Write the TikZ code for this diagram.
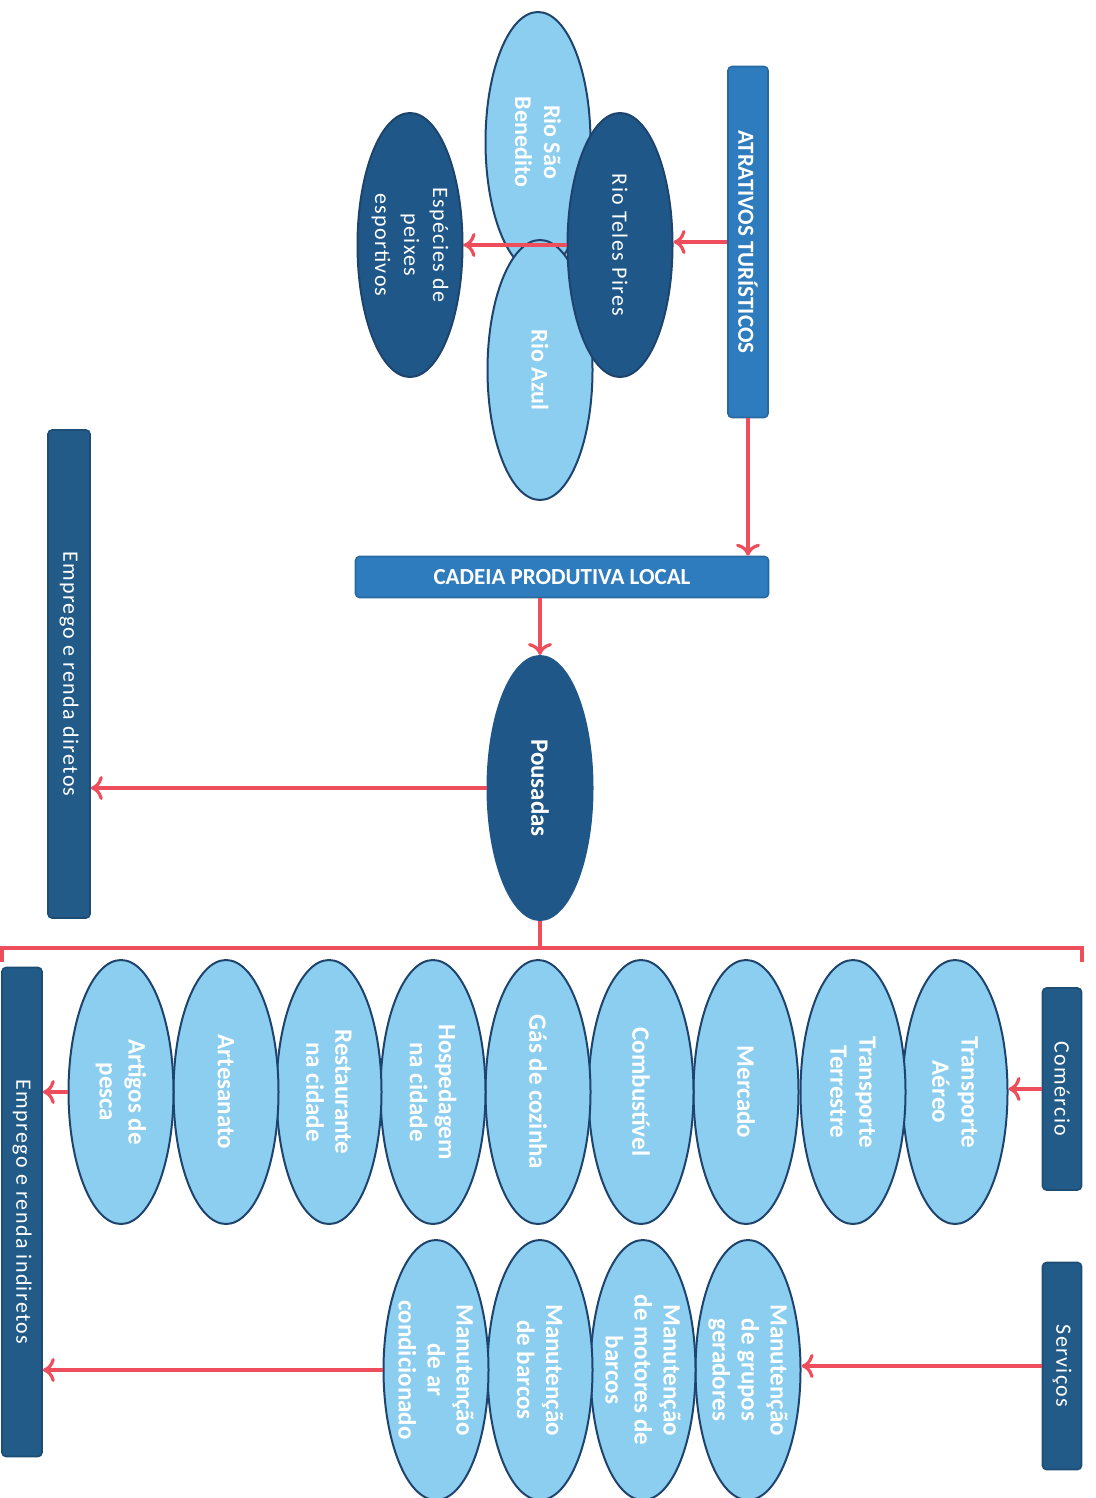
\documentclass[tikz,border=0pt]{standalone}
\usepackage{fontspec}
\setmainfont{Carlito}
\newfontfamily\spacedfont[LetterSpace=6]{Carlito}
\usetikzlibrary{shapes.geometric,arrows.meta}
\definecolor{skyfill}{RGB}{140,206,240}
\definecolor{deepfill}{RGB}{31,87,136}
\definecolor{rimblue}{RGB}{30,68,110}
\definecolor{midbox}{RGB}{46,124,190}
\definecolor{deepbox}{RGB}{34,90,136}
\definecolor{linkred}{RGB}{238,78,92}
\begin{document}
\begin{tikzpicture}[x=0.5pt,y=-0.5pt,
    oval/.style={ellipse,rotate=-90,minimum width=132pt,minimum height=52.5pt,
        inner sep=-4pt,line width=1pt,text=white,align=center},
    item/.style={oval,draw=rimblue,fill=skyfill,
        font=\bfseries\fontsize{12.5}{14.5}\selectfont},
    rio/.style={oval,draw=rimblue,fill=deepfill,
        font=\spacedfont\fontsize{11}{14.5}\selectfont},
    bloco/.style={rounded corners=2pt,inner sep=0pt,text=white,line width=0.8pt,
        draw=#1!85!black,fill=#1},
    link/.style={draw=linkred,line width=1.6pt,-{To[length=6pt,width=12pt]}},
    wire/.style={draw=linkred,line width=1.6pt}]
\useasboundingbox (0,0) rectangle (1096,1498);
% atrativos
\node[bloco=midbox,rotate=-90,minimum width=175.5pt,minimum height=20pt,
    font=\bfseries\fontsize{11.5}{13}\selectfont] (atrativos) at (748,242) {ATRATIVOS TURÍSTICOS};
\node[item,minimum width=130pt,font=\bfseries\fontsize{12}{14.5}\selectfont]
    (benedito) at (538,142) {Rio São\\Benedito};
\node[item,minimum width=130pt,font=\bfseries\fontsize{12}{14.5}\selectfont]
    (azul) at (540,370) {Rio Azul};
\node[rio] (teles) at (620,245) {Rio Teles Pires};
\node[rio] (especies) at (410,245) {Espécies de\\peixes\\esportivos};
% cadeia
\node[bloco=midbox,minimum width=206.5pt,minimum height=20.5pt,
    font=\bfseries\fontsize{11.5}{13}\selectfont] (cadeia) at (562,577) {CADEIA PRODUTIVA LOCAL};
\node[oval,draw=deepfill,fill=deepfill,font=\bfseries\fontsize{12.5}{14}\selectfont]
    (pousadas) at (540,788) {Pousadas};
\node[bloco=deepbox,rotate=-90,minimum width=244pt,minimum height=21pt,
    font=\spacedfont\fontsize{11}{13}\selectfont] (diretos) at (69,674) {Emprego e renda diretos};
% comercio
\node[bloco=deepbox,rotate=-90,minimum width=101pt,minimum height=19.5pt,
    font=\spacedfont\fontsize{11}{13}\selectfont] (comercio) at (1062,1089) {Comércio};
\path
    (955,1092) node[item] (aereo) {Transporte\\Aéreo}
    (853,1092) node[item] (terrestre) {Transporte\\Terrestre}
    (746,1092) node[item] (mercado) {Mercado}
    (641,1092) node[item] (combustivel) {Combustível}
    (538,1092) node[item] (gas) {Gás de cozinha}
    (433,1092) node[item] (hospedagem) {Hospedagem\\na cidade}
    (329,1092) node[item] (restaurante) {Restaurante\\na cidade}
    (226,1092) node[item] (artesanato) {Artesanato}
    (121,1092) node[item] (artigos) {Artigos de\\pesca};
\node[bloco=deepbox,rotate=-90,minimum width=244.5pt,minimum height=20pt,
    font=\spacedfont\fontsize{11}{13}\selectfont] (indiretos) at (22,1212) {Emprego e renda indiretos};
% servicos
\node[bloco=deepbox,rotate=-90,minimum width=103.5pt,minimum height=19.5pt,
    font=\spacedfont\fontsize{11}{13}\selectfont] (servicos) at (1062,1366) {Serviços};
\path
    (748,1370) node[item,minimum width=130pt] (geradores) {Manutenção\\de grupos\\geradores}
    (643,1370) node[item,minimum width=130pt] (motores) {Manutenção\\de motores de\\barcos}
    (540,1370) node[item,minimum width=130pt] (barcos) {Manutenção\\de barcos}
    (436,1370) node[item,minimum width=130pt] (arcond) {Manutenção\\de ar\\condicionado};
% ligacoes
\draw[link] (atrativos.south) -- (atrativos.south -| teles.north);
\draw[link] (teles.south) -- (especies.north);
\draw[link] (atrativos.east) -- (atrativos.east |- cadeia.north);
\draw[link] (pousadas.west |- cadeia.south) -- (pousadas.west);
\draw[link] (pousadas.south) -- (pousadas.south -| diretos.north);
\coordinate (chaveE) at (2,948);
\coordinate (chaveD) at (1082,948);
\draw[wire] (pousadas.east) -- (pousadas.east |- chaveE);
\draw[wire] ([yshift=-7pt]chaveE) -- (chaveE) -- (chaveD) -- ([yshift=-7pt]chaveD);
\draw[link] (comercio.south) -- (comercio.south -| aereo.north);
\draw[link] (artigos.south) -- (artigos.south -| indiretos.north);
\draw[link] (servicos.south) -- (servicos.south -| geradores.north);
\draw[link] (arcond.south) -- (arcond.south -| indiretos.north);
\end{tikzpicture}
\end{document}
